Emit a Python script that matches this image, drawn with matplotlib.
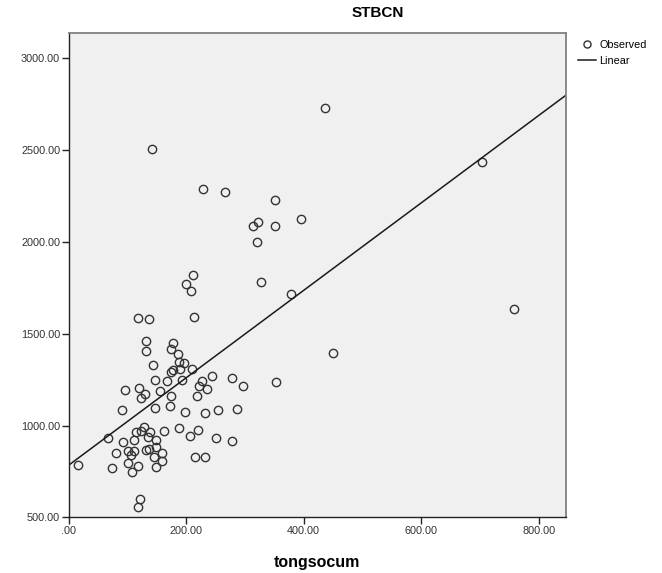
import numpy as np
from matplotlib import pyplot as plt

plt.rcParams['font.family'] = ['Liberation Sans', 'DejaVu Sans']

# observed points (tongsocum, STBCN)
tongsocum = [
    141.6, 436.6, 703.8, 757.8, 227.9, 265.4, 351.0, 394.7, 321.5, 314.0,
    351.0, 320.9, 210.9, 199.5, 207.5, 327.1, 378.2, 450.0, 352.7,
    118.3, 136.5, 213.6, 132.6, 132.6, 177.9, 174.0, 185.9, 188.1, 195.6,
    143.8, 190.4, 177.9, 175.1, 209.7, 243.2, 278.3, 297.0, 147.9, 167.1,
    193.2, 226.2, 221.1, 235.7, 95.7, 120.0, 129.7, 156.0, 217.7, 123.0,
    174.0,
    90.6, 146.7, 172.3, 197.8, 231.3, 254.5, 285.8, 188.1, 206.3, 219.4,
    250.0, 278.3, 214.3, 231.3,
    67.2, 16.2, 92.8, 111.5, 114.4, 124.0, 128.5, 138.2, 135.3, 148.4,
    162.6, 80.3, 101.3, 111.0, 107.0, 101.3, 118.3, 108.8, 74.0, 132.6,
    137.0, 149.6, 145.0, 159.8, 159.8, 149.6, 121.2, 118.3,
]
stbcn = [
    2509, 2729, 2438, 1636, 2288, 2271, 2228, 2127, 2108, 2089,
    2086, 2002, 1821, 1772, 1734, 1783, 1717, 1398, 1236,
    1585, 1581, 1594, 1461, 1407, 1452, 1418, 1390, 1349, 1340,
    1331, 1309, 1303, 1292, 1307, 1272, 1260, 1216, 1247, 1243,
    1249, 1245, 1216, 1201, 1194, 1204, 1174, 1190, 1162, 1149,
    1160,
    1085, 1095, 1109, 1076, 1068, 1086, 1092, 989, 944, 977,
    935, 917, 829, 829,
    931, 786, 913, 922, 964, 973, 994, 967, 940, 922,
    973, 850, 864, 864, 840, 798, 780, 749, 771, 868,
    873, 886, 831, 853, 808, 773, 599, 559,
]

x_ticks = [0, 200, 400, 600, 800]
x_labels = ['.00', '200.00', '400.00', '600.00', '800.00']
y_ticks = [500, 1000, 1500, 2000, 2500, 3000]
y_labels = ['500.00', '1000.00', '1500.00', '2000.00', '2500.00', '3000.00']

x = np.array(tongsocum)
y = np.array(stbcn)
slope, intercept = np.polyfit(x, y, 1)

fig = plt.figure(figsize=(6.62, 5.73), dpi=100)
ax = fig.add_axes([0.1035, 0.097, 0.7515, 0.845])
ax.set_facecolor('#f0f0f0')

ax.plot(x, y, 'o', ms=6, mfc='none', mec='#333333', mew=1.0, label='Observed')
xl = np.array([0, 846])
ax.plot(xl, intercept + slope * xl, color='#1a1a1a', lw=1.1, label='Linear')

ax.set_xlim(0, 846)
ax.set_ylim(500, 3137)
ax.set_xticks(x_ticks)
ax.set_xticklabels(x_labels)
ax.set_yticks(y_ticks)
ax.set_yticklabels(y_labels)
ax.tick_params(direction='out', length=5, width=1, color='#222222',
               labelsize=7.8, labelcolor='#333333', pad=1)

for side in ['left', 'bottom']:
    ax.spines[side].set_color('#222222')
    ax.spines[side].set_linewidth(1.0)
for side in ['top', 'right']:
    ax.spines[side].set_color('#808080')
    ax.spines[side].set_linewidth(1.3)

ax.set_xlabel('tongsocum', fontsize=11.5, fontweight='bold', labelpad=14)
fig.text(378 / 662, 1 - 13 / 573, 'STBCN', fontsize=11, fontweight='bold',
         ha='center', va='center')

leg = ax.legend(loc='upper left', bbox_to_anchor=(1.015, 0.995), frameon=False,
                fontsize=7.8, handlelength=1.7, handletextpad=0.3,
                labelspacing=0.55, borderaxespad=0, markerscale=0.85)

plt.savefig('out.png', dpi=100)
plt.close()
